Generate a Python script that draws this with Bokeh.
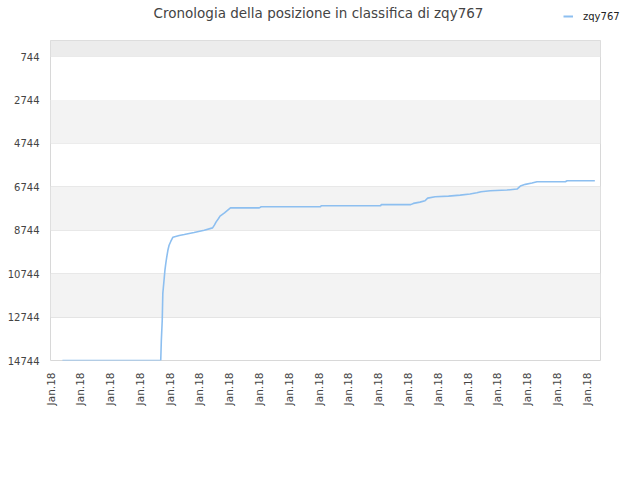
from bokeh.plotting import figure
from bokeh.layouts import column, row
from bokeh.models import (Range1d, FixedTicker, BoxAnnotation, Label, Legend, LegendItem)
from bokeh.embed import file_html
from bokeh.resources import INLINE
import math

# ---- data ----
title_text = "Cronologia della posizione in classifica di zqy767"
series_name = "zqy767"
x_tick_labels = ["Jan.18"] * 19
y_ticks = [744, 2744, 4744, 6744, 8744, 10744, 12744, 14744]

# time (in tick units) and ranking position
days = [0.40, 3.70, 3.72, 3.75, 3.77, 3.81, 3.84, 3.87, 3.90, 3.94, 3.98, 4.04, 4.11,
        4.32, 4.49, 4.82, 5.16, 5.44, 5.50, 5.56, 5.64, 5.69, 5.84, 6.04, 7.01, 7.07,
        9.06, 9.08, 11.08, 11.10, 12.09, 12.18, 12.40, 12.57, 12.66, 12.91, 13.36,
        13.75, 14.08, 14.31, 14.45, 14.76, 15.32, 15.66, 15.77, 15.94, 16.16, 16.33,
        17.28, 17.34, 18.27]
ranks = [14744, 14744, 13824, 12900, 11652, 11051, 10589, 10265, 9988, 9665, 9433, 9249, 9064,
         8985, 8939, 8847, 8740, 8634, 8509, 8357, 8199, 8093, 7941, 7710, 7710, 7663,
         7663, 7617, 7617, 7562, 7562, 7506, 7446, 7386, 7261, 7201, 7169,
         7123, 7076, 7016, 6970, 6924, 6891, 6845, 6707, 6628, 6568, 6508,
         6508, 6462, 6462]

FONT = "DejaVu Sans"
LINE_COLOR = "#8dbff0"
W = 632

# ---- header: title and legend ----
head = figure(width=W, height=40, output_backend="svg", toolbar_location=None,
              x_range=Range1d(0, W), y_range=Range1d(40, 0),
              x_axis_location=None, y_axis_location=None, min_border=0,
              min_border_left=0, min_border_right=0, min_border_top=0, min_border_bottom=0)
head.title = None
head.grid.visible = False
head.outline_line_color = None
head.background_fill_color = "white"
head.border_fill_color = "white"
head.add_layout(Label(x=318, y=12, text=title_text, text_align="center",
                      text_baseline="middle", text_font=FONT, text_font_size="13.5px",
                      text_color="#444444"))
key = head.line([float("nan")], [float("nan")], line_color=LINE_COLOR, line_width=2)
legend = Legend(items=[LegendItem(label=series_name, renderers=[key])], location=(563, 17),
                padding=0, margin=0, glyph_width=10, glyph_height=14, label_height=14,
                label_standoff=10, label_text_font=FONT, label_text_font_size="10px",
                label_text_color="#222222", background_fill_alpha=0, border_line_color=None)
head.add_layout(legend, "center")

# ---- main chart ----
p = figure(width=W, height=400, output_backend="svg", toolbar_location=None,
           x_range=Range1d(0, 18.46), y_range=Range1d(14744, 0),
           min_border_left=50, min_border_right=W - 600, min_border_top=0, min_border_bottom=80)
p.title = None
p.outline_line_color = "#d8d8d8"
p.outline_line_width = 1
p.background_fill_color = "white"
p.border_fill_color = "white"

# alternating bands
p.add_layout(BoxAnnotation(bottom=y_ticks[0], top=0, fill_color="#ececec", fill_alpha=1,
                           line_color=None, level="underlay"))
for i in range(1, len(y_ticks) - 1, 2):
    p.add_layout(BoxAnnotation(bottom=y_ticks[i + 1], top=y_ticks[i], fill_color="#f3f3f3",
                               fill_alpha=1, line_color=None, level="underlay"))

p.line(days, ranks, line_color=LINE_COLOR, line_width=1.6)

p.xaxis.ticker = FixedTicker(ticks=list(range(len(x_tick_labels))))
p.xaxis.major_label_overrides = {i: t for i, t in enumerate(x_tick_labels)}
p.xaxis.major_label_orientation = math.pi / 2
p.yaxis.ticker = FixedTicker(ticks=y_ticks)
for ax in (p.xaxis, p.yaxis):
    ax.axis_line_color = None
    ax.major_tick_line_color = None
    ax.minor_tick_line_color = None
    ax.major_tick_out = 0
    ax.major_tick_in = 0
    ax.major_label_text_font = FONT
    ax.major_label_text_font_size = "10px"
    ax.major_label_text_color = "#444444"
p.xaxis.major_label_text_font_size = "10.5px"
p.yaxis.major_label_standoff = 11
p.xaxis.major_label_standoff = 12

p.xgrid.grid_line_color = None
p.ygrid.ticker = FixedTicker(ticks=y_ticks)
p.ygrid.grid_line_color = "#e4e4e4"

layout = column(row(head, spacing=0), p, spacing=0)
open("out.html", "w").write(file_html(layout, INLINE))
